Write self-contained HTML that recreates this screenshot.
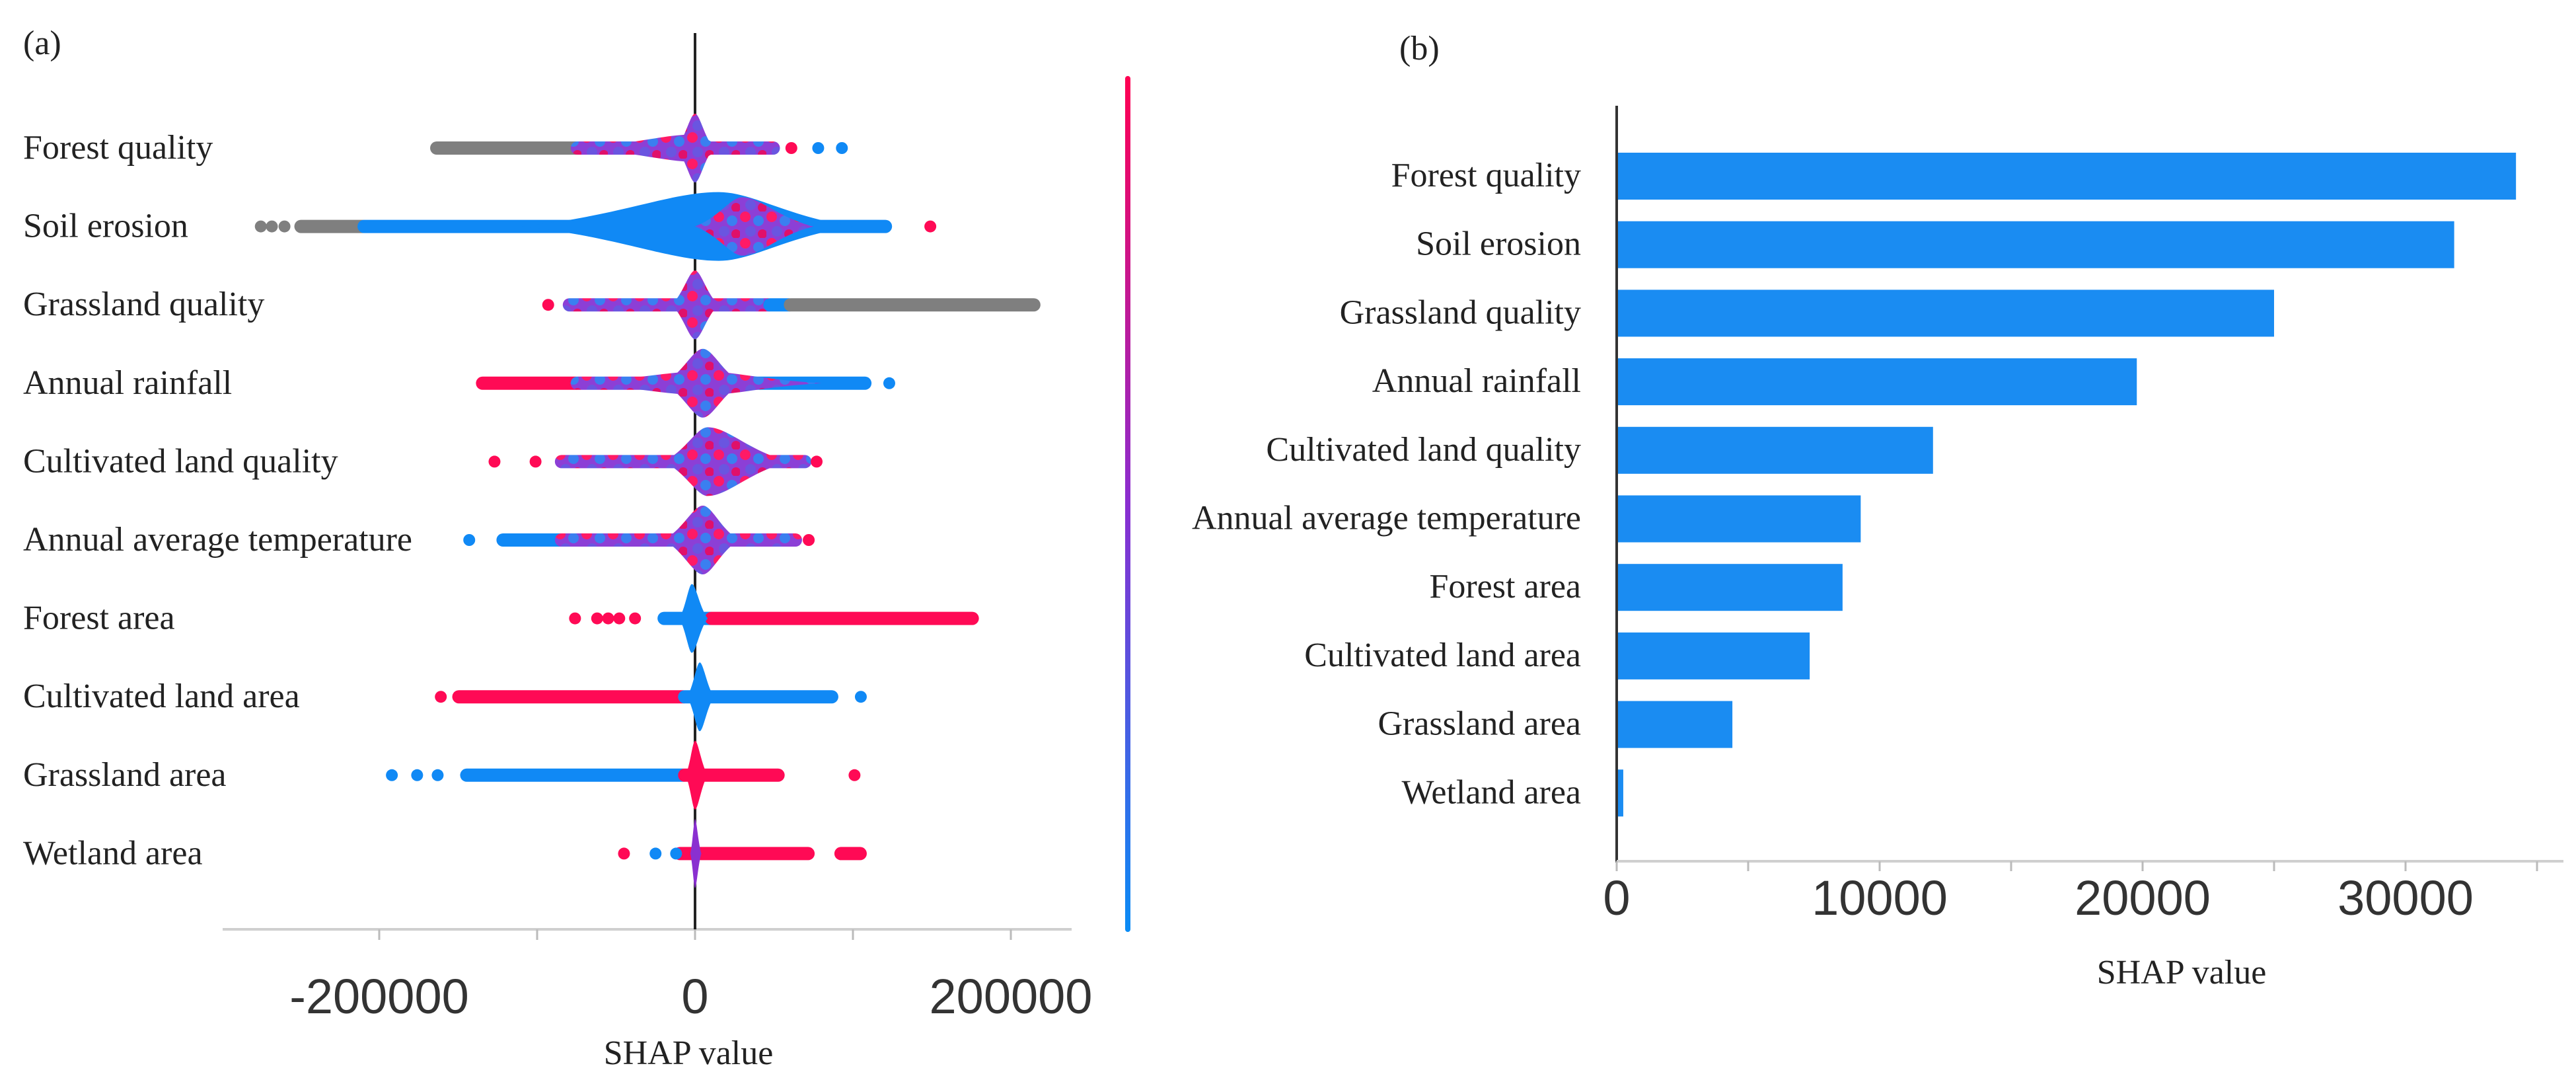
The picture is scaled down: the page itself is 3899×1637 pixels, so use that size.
<!DOCTYPE html>
<html><head><meta charset="utf-8"><style>
html,body{margin:0;padding:0;background:#fff;}
svg{display:block;}
.lab{font-family:"Liberation Serif",serif;font-size:52px;fill:#222;}
.tick{font-family:"Liberation Sans",sans-serif;font-size:74px;fill:#333;}
</style></head><body>
<svg id="chart" width="3899" height="1637" viewBox="0 0 3899 1637" xmlns="http://www.w3.org/2000/svg">
<defs>
<linearGradient id="cbar" x1="0" y1="0" x2="0" y2="1">
<stop offset="0" stop-color="#ff0052"/><stop offset="0.5" stop-color="#8a2ed0"/><stop offset="1" stop-color="#0a8cf5"/>
</linearGradient>
<pattern id="mixP" width="40" height="40" patternUnits="userSpaceOnUse">
<rect width="40" height="40" fill="#8c3fd6"/>
<circle cx="8" cy="8" r="8" fill="#ff1a66"/><circle cx="28" cy="14" r="8" fill="#3a7ff0"/>
<circle cx="16" cy="30" r="8" fill="#6a55e0"/><circle cx="34" cy="34" r="7" fill="#e0106a"/>
</pattern>
<pattern id="blueP" width="40" height="40" patternUnits="userSpaceOnUse">
<rect width="40" height="40" fill="#1089f5"/>
<circle cx="10" cy="12" r="7" fill="#6a55e0"/><circle cx="30" cy="30" r="7" fill="#e0106a"/>
</pattern>
</defs>
<g id="panelA"></g>
<g id="panelB"></g>
</svg>
<script>
// ---- Panel (a) data ----
const featuresA = ["Forest quality","Soil erosion","Grassland quality","Annual rainfall","Cultivated land quality","Annual average temperature","Forest area","Cultivated land area","Grassland area","Wetland area"];
const segmentsA = [
 [[-164000,-75000,"grey"],[-75000,50000,"mix"]],
 [[-250000,-210000,"grey"],[-210000,121000,"blue"]],
 [[-80000,47000,"mix"],[47000,60000,"blue"],[60000,215000,"grey"]],
 [[-135000,-75000,"red"],[-75000,30000,"mix"],[30000,108000,"blue"]],
 [[-85000,70000,"mix"]],
 [[-122000,-85000,"blue"],[-85000,64000,"mix"]],
 [[-20000,10000,"blue"],[10000,176000,"red"]],
 [[-150000,-7000,"red"],[-7000,87000,"blue"]],
 [[-145000,-7000,"blue"],[-7000,53000,"red"]],
 [[-10000,72000,"red"],[92000,105000,"red"]]
];
const blobsA = [
 [[-75000,20000,0,0.4,"mix"],[-12000,12000,0,1.0,"mix"]],
 [[-110000,100000,15000,1.0,"blue"],[0,75000,30000,0.85,"mix"]],
 [[-15000,15000,0,1.0,"mix"]],
 [[-80000,80000,5000,0.35,"mix"],[-20000,30000,5000,1.0,"mix"]],
 [[-20000,60000,8000,1.0,"mix"]],
 [[-20000,28000,5000,1.0,"mix"]],
 [[-10000,8000,-2000,1.0,"blue"]],
 [[-5000,12000,3000,1.0,"blue"]],
 [[-6000,8000,0,1.0,"red"]],
 [[-3000,4000,0,1.0,"purple"]]
];
const dotsA = [
 [[61000,"red"],[78000,"blue"],[93000,"blue"]],
 [[-275000,"grey"],[-268000,"grey"],[-260000,"grey"],[149000,"red"]],
 [[-93000,"red"]],
 [[123000,"blue"]],
 [[-127000,"red"],[-101000,"red"],[77000,"red"]],
 [[-143000,"blue"],[72000,"red"]],
 [[-76000,"red"],[-62000,"red"],[-55000,"red"],[-48000,"red"],[-38000,"red"]],
 [[-161000,"red"],[105000,"blue"]],
 [[-192000,"blue"],[-176000,"blue"],[-163000,"blue"],[101000,"red"]],
 [[-45000,"red"],[-25000,"blue"],[-12000,"blue"]]
];
const ticksA = [-200000,0,200000];
const minorTicksA = [-200000,-100000,0,100000,200000];

// ---- Panel (b) data ----
const featuresB = ["Forest quality","Soil erosion","Grassland quality","Annual rainfall","Cultivated land quality","Annual average temperature","Forest area","Cultivated land area","Grassland area","Wetland area"];
const valuesB = [34200,31850,25000,19780,12030,9280,8590,7340,4400,250];
const ticksB = [0,10000,20000,30000];
const minorTicksB = [0,5000,10000,15000,20000,25000,30000,35000];

const NS="http://www.w3.org/2000/svg";
function mk(parent,tag,attrs,text){const e=document.createElementNS(NS,tag);for(const k in attrs)e.setAttribute(k,attrs[k]);if(text!==undefined)e.textContent=text;parent.appendChild(e);return e;}
const COL={grey:"#7f7f7f",blue:"#1089f5",red:"#ff0a55",mix:"url(#mixP)",purple:"#8a30d0",blueMix:"url(#blueP)"};

const A=document.getElementById('panelA');
const xA=v=>1052+v*478/200000;
const yA=i=>224+i*118.6;
let e;
e=mk(A,'line',{x1:337,x2:1622,y1:1406,y2:1406,stroke:'#cfcfcf','stroke-width':4});


minorTicksA.forEach(t=>{const m=mk(A,'line',{x1:xA(t),x2:xA(t),y1:1406,y2:1422,stroke:'#bbb','stroke-width':3});

});
ticksA.forEach(t=>{const s=t<0?'-'+Math.abs(t):String(t);const m=mk(A,'text',{class:'tick',x:xA(t),y:1533,'text-anchor':'middle'},s);

});
e=mk(A,'text',{class:'lab',x:xA(0)-10,y:1610,'text-anchor':'middle','font-size':52},'SHAP value');


featuresA.forEach((f,i)=>{
 const y=yA(i);
 const g=mk(A,'g',{});
 
 
 segmentsA[i].forEach(s=>{mk(g,'rect',{x:xA(s[0])-9,y:y-10,width:xA(s[1])-xA(s[0])+18,height:20,rx:10,fill:COL[s[2]]});});
 blobsA[i].forEach(b=>{
  const x0=xA(b[0]),x1=xA(b[1]),xp=xA(b[2]),h=52*b[3];
  const d=`M${x0},${y} C${(x0+xp)/2},${y-h*0.3} ${xp-(xp-x0)*0.25},${y-h} ${xp},${y-h} C${xp+(x1-xp)*0.25},${y-h} ${(xp+x1)/2},${y-h*0.3} ${x1},${y} C${(xp+x1)/2},${y+h*0.3} ${xp+(x1-xp)*0.25},${y+h} ${xp},${y+h} C${xp-(xp-x0)*0.25},${y+h} ${(x0+xp)/2},${y+h*0.3} ${x0},${y} Z`;
  mk(g,'path',{d:d,fill:COL[b[4]]});
 });
 dotsA[i].forEach(p=>{mk(g,'circle',{cx:xA(p[0]),cy:y,r:9,fill:COL[p[1]]});});
 const t=mk(A,'text',{class:'lab',x:35,y:y+16},f);
 
 
});
e=mk(A,'line',{x1:xA(0),x2:xA(0),y1:50,y2:1406,stroke:'#222','stroke-width':4});


A.insertBefore(e,A.children[1]);
e=mk(A,'rect',{x:1703,y:115,width:8,height:1295,rx:4,fill:'url(#cbar)'});


e=mk(A,'text',{class:'lab',x:35,y:82,'font-size':72},'(a)');



const B=document.getElementById('panelB');
const xB=v=>2447+v*398/10000;
const yB=i=>266+i*103.7;
featuresB.forEach((f,i)=>{
 const r=mk(B,'rect',{x:xB(0),y:yB(i)-35,width:xB(valuesB[i])-xB(0),height:71,fill:'#1a8cf2'});
 
 
 const t=mk(B,'text',{class:'lab',x:2393,y:yB(i)+16,'text-anchor':'end'},f);
 
 
});
e=mk(B,'line',{x1:xB(0),x2:xB(0),y1:160,y2:1305,stroke:'#333','stroke-width':4});


e=mk(B,'line',{x1:xB(0),x2:3880,y1:1303,y2:1303,stroke:'#cfcfcf','stroke-width':4});


minorTicksB.forEach(t=>{const m=mk(B,'line',{x1:xB(t),x2:xB(t),y1:1303,y2:1318,stroke:'#bbb','stroke-width':3});

});
ticksB.forEach(t=>{const m=mk(B,'text',{class:'tick',x:xB(t),y:1384,'text-anchor':'middle'},String(t));

});
e=mk(B,'text',{class:'lab',x:3302,y:1488,'text-anchor':'middle','font-size':52},'SHAP value');


e=mk(B,'text',{class:'lab',x:2118,y:90,'font-size':72},'(b)');


</script>
</body></html>
